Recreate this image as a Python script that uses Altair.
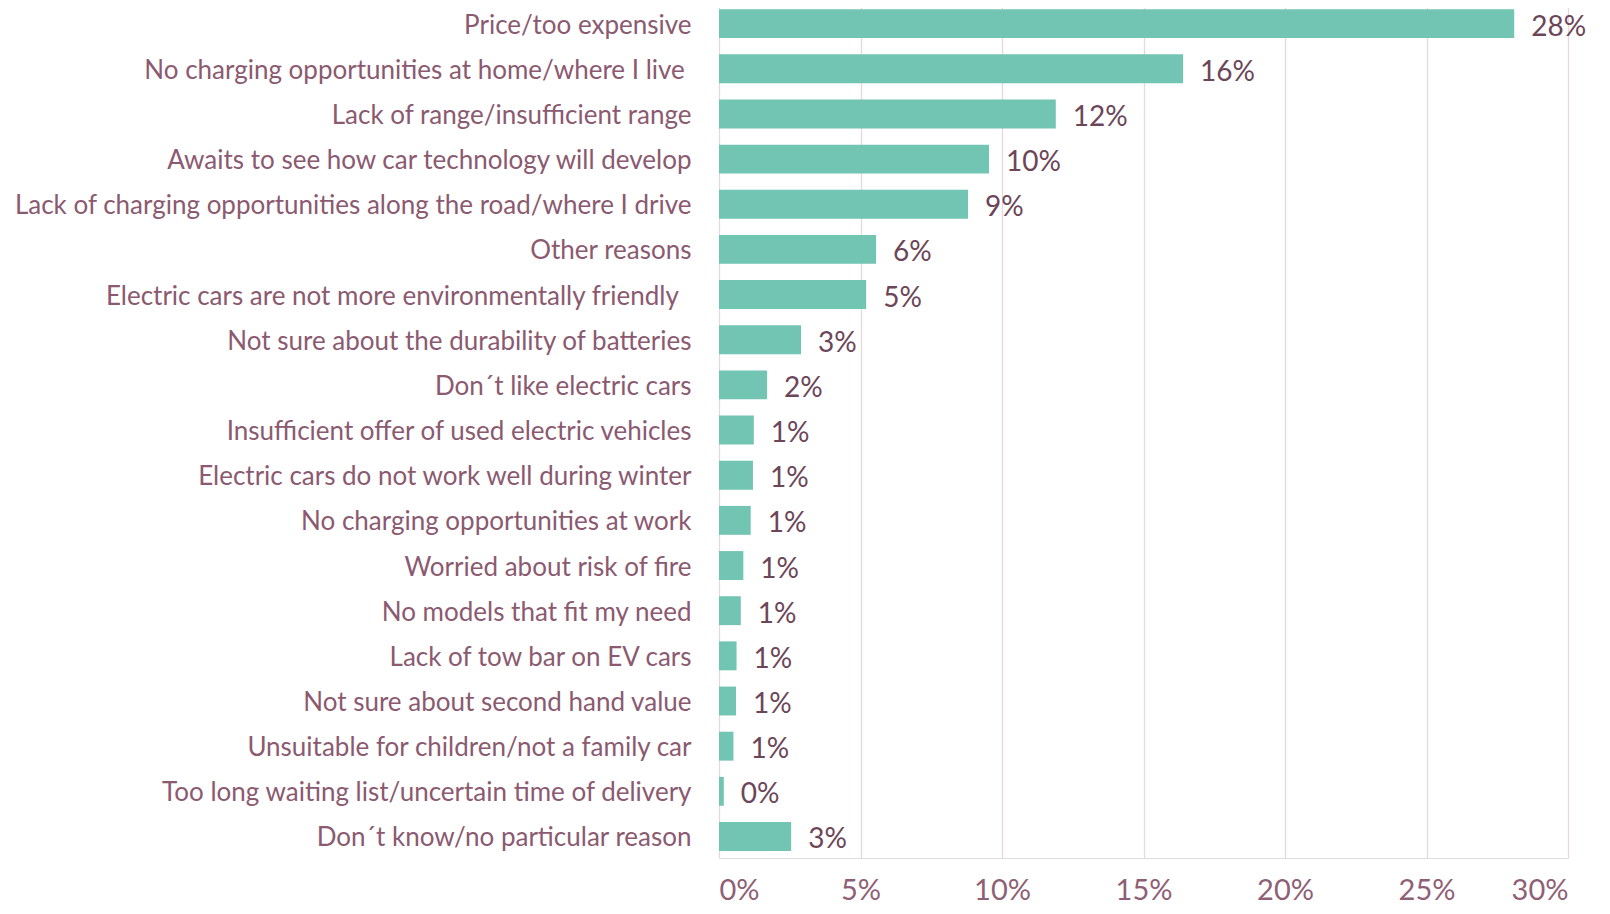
import altair as alt
import pandas as pd

categories = [
    "Price/too expensive",
    "No charging opportunities at home/where I live\u00a0\u2060",
    "Lack of range/insufficient range",
    "Awaits to see how car technology will develop",
    "Lack of charging opportunities along the road/where I drive",
    "Other reasons",
    "Electric cars are not more environmentally friendly\u00a0\u00a0\u2060",
    "Not sure about the durability of batteries",
    "Don\u00b4t like electric cars",
    "Insufficient offer of used electric vehicles",
    "Electric cars do not work well during winter",
    "No charging opportunities at work",
    "Worried about risk of fire",
    "No models that fit my need",
    "Lack of tow bar on EV cars",
    "Not sure about second hand value",
    "Unsuitable for children/not a family car",
    "Too long waiting list/uncertain time of delivery",
    "Don\u00b4t know/no particular reason",
]
values = [0.281, 0.164, 0.119, 0.0954, 0.088, 0.0555, 0.052, 0.029, 0.017,
          0.0123, 0.012, 0.0112, 0.0086, 0.0077, 0.0062, 0.0060, 0.0051,
          0.0017, 0.0255]
value_labels = ["28%", "16%", "12%", "10%", "9%", "6%", "5%", "3%", "2%", "1%",
                "1%", "1%", "1%", "1%", "1%", "1%", "1%", "0%", "3%"]

df = pd.DataFrame({"reason": categories, "share": values, "label": value_labels})

FONT = "Lato"
CAT_COLOR = "#8B5A70"
VAL_COLOR = "#6C4658"
AXIS_COLOR = "#8F5F75"

y_enc = alt.Y(
    "reason:N",
    sort=categories,
    title=None,
    scale=alt.Scale(paddingInner=0.36, paddingOuter=0.1685, align=0.536),
    axis=alt.Axis(
        labelFont=FONT, labelFontSize=26, labelColor=CAT_COLOR,
        labelPadding=28, labelOffset=2, ticks=False, domain=False, labelLimit=1000,
    ),
)
x_enc = alt.X(
    "share:Q",
    title=None,
    scale=alt.Scale(domain=[0, 0.30], nice=False),
    axis=alt.Axis(
        format=".0%", values=[0, 0.05, 0.10, 0.15, 0.20, 0.25, 0.30],
        labelFont=FONT, labelFontSize=29, labelColor=AXIS_COLOR,
        ticks=False, domain=False, labelPadding=18,
        grid=True, gridColor="#E6D9DE", gridWidth=1.3,
    ),
)

bars = alt.Chart(df).mark_bar(color="#72C4B3").encode(x=x_enc, y=y_enc)
texts = alt.Chart(df).mark_text(
    align="left", baseline="middle", dx=17, dy=4, font=FONT, fontSize=28, color=VAL_COLOR
).encode(x="share:Q", y=alt.Y("reason:N", sort=categories), text="label:N")

chart = (
    alt.layer(bars, texts)
    .properties(
        width=849, height=857,
        autosize=alt.AutoSizeParams(type="none"),
        padding={"left": 711, "top": -7, "right": 34, "bottom": 48},
    )
    .configure_view(stroke=None)
    .configure(background="white")
)

chart.save("out.html", embed_options={"renderer": "svg", "actions": False})
